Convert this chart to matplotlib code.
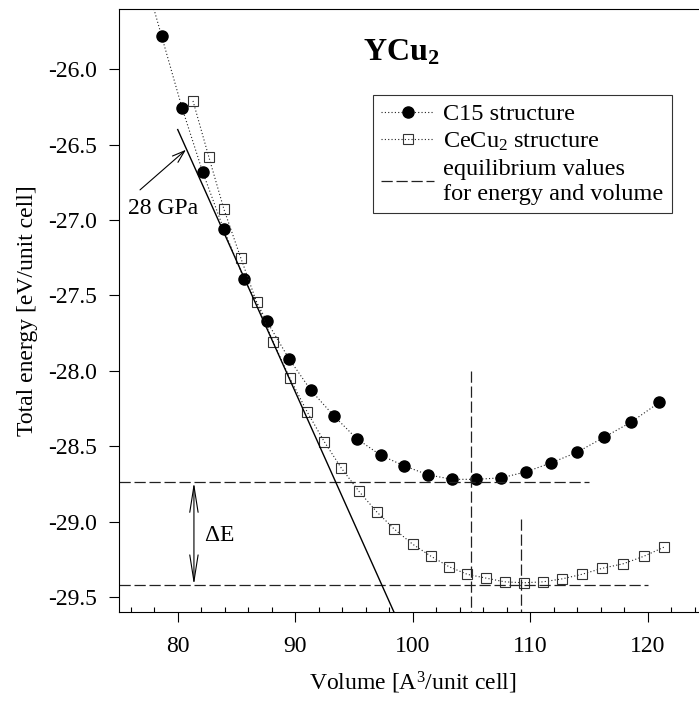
import numpy as np
import matplotlib
matplotlib.use("Agg")
import matplotlib.pyplot as plt
from matplotlib.lines import Line2D

# C15 structure (filled circles)
c15_volume = [78.63, 80.36, 82.12, 83.91, 85.64, 87.57, 89.47, 91.34, 93.30, 95.23, 97.27,
              99.26, 101.30, 103.37, 105.40, 107.54, 109.66, 111.80, 114.00, 116.30, 118.60, 120.98]
c15_energy = [-25.78, -26.254, -26.68, -27.06, -27.39, -27.67, -27.92, -28.13, -28.30, -28.45, -28.56,
              -28.63, -28.69, -28.72, -28.72, -28.71, -28.67, -28.61, -28.54, -28.44, -28.34, -28.21]

# CeCu2 structure (open squares)
cecu2_volume = [81.30, 82.66, 83.94, 85.36, 86.72, 88.13, 89.55, 91.00, 92.47, 93.92, 95.43, 96.93,
                98.43, 99.99, 101.55, 103.10, 104.64, 106.23, 107.83, 109.47, 111.09, 112.73, 114.40,
                116.13, 117.92, 119.68, 121.38]
cecu2_energy = [-26.21, -26.585, -26.93, -27.25, -27.545, -27.81, -28.05, -28.27, -28.47, -28.645, -28.80,
                -28.935, -29.05, -29.15, -29.23, -29.30, -29.35, -29.375, -29.40, -29.406, -29.40, -29.38,
                -29.35, -29.31, -29.28, -29.23, -29.17]

# equilibrium values (C15, CeCu2)
eq_volume = [105.0, 109.2]
eq_energy = [-28.74, -29.42]

# 28 GPa tangent
tangent_volume = [80.0, 98.4]
tangent_energy = [-26.40, -29.60]

xticks = [80, 90, 100, 110, 120]
yticks = [-26.0, -26.5, -27.0, -27.5, -28.0, -28.5, -29.0, -29.5]

plt.rcParams['font.family'] = ['Liberation Serif', 'DejaVu Serif']
plt.rcParams['mathtext.fontset'] = 'custom'
plt.rcParams['mathtext.rm'] = 'Liberation Serif'
plt.rcParams['mathtext.it'] = 'Liberation Serif:italic'
plt.rcParams['mathtext.bf'] = 'Liberation Serif:bold'
plt.rcParams['mathtext.default'] = 'regular'

fig = plt.figure(figsize=(6.99, 7.02), dpi=100)
# right spine sits just outside the picture, as in the scan
ax = fig.add_axes([0.1702, 0.1282, 0.8405, 0.8590])
xmin, xmax = 75, 125
ymin, ymax = -29.6, -25.6

dot = (0, (1, 2))
dash = (0, (9, 3))

# dotted curve through C15 points, first segment carried on to the top
s = (c15_energy[1] - c15_energy[0]) / (c15_volume[1] - c15_volume[0])
x_top = c15_volume[0] + (ymax - c15_energy[0]) / s
ax.plot([x_top] + c15_volume, [ymax] + c15_energy, linestyle=dot, color='#222222', lw=0.8)
ax.plot(c15_volume, c15_energy, 'o', color='black', markersize=8)

ax.plot(cecu2_volume, cecu2_energy, linestyle=dot, color='#222222', lw=0.8,
        marker='s', markersize=7.5, markerfacecolor='none', markeredgecolor='#333333',
        markeredgewidth=0.8)

# equilibrium lines
ax.plot([xmin, 115], [eq_energy[0], eq_energy[0]], color='#222222', lw=0.9, linestyle=dash)
ax.plot([xmin, 120], [eq_energy[1], eq_energy[1]], color='#222222', lw=0.9, linestyle=dash)
ax.plot([eq_volume[0], eq_volume[0]], [-28.0, ymin], color='#222222', lw=0.9, linestyle=dash)
ax.plot([eq_volume[1], eq_volume[1]], [-28.98, ymin], color='#222222', lw=0.9, linestyle=dash)

# tangent
ax.plot(tangent_volume, tangent_energy, color='black', lw=1.0)

# 28 GPa arrow
ax.annotate('', xy=(80.70, -26.534), xytext=(76.79, -26.80),
            arrowprops=dict(arrowstyle='->,head_length=0.9,head_width=0.3', color='black',
                            lw=0.8, shrinkA=0, shrinkB=0))
ax.text(75.75, -26.925, '28 GPa', fontsize=17, ha='left', va='center')

# delta E
ax.annotate('', xy=(81.38, eq_energy[0]), xytext=(81.38, eq_energy[1]),
            arrowprops=dict(arrowstyle='<->,head_length=1.9,head_width=0.3', color='black',
                            lw=0.8, shrinkA=0, shrinkB=0))
ax.text(82.2, -29.093, r'$\Delta$E', fontsize=17, ha='left', va='center')

ax.text(95.8, -25.945, r'$\mathbf{YCu_2}$', fontsize=23, ha='left', va='baseline')

handles = [
    Line2D([], [], linestyle=dot, color='#222222', lw=0.8, marker='o', markersize=8,
           markerfacecolor='black', markeredgecolor='black'),
    Line2D([], [], linestyle=dot, color='#222222', lw=0.8, marker='s', markersize=7.5,
           markerfacecolor='none', markeredgecolor='#333333', markeredgewidth=0.8),
    Line2D([], [], linestyle=dash, color='#222222', lw=0.9),
]
labels = ['C15 structure', r'CeCu$_2$ structure', 'equilibrium values\nfor energy and volume']
leg = ax.legend(handles, labels, loc='upper left', bbox_to_anchor=(0.4323, 0.8574),
                borderaxespad=0, fontsize=17.5, frameon=True, fancybox=False,
                edgecolor='black', handlelength=2.15, handletextpad=0.4,
                borderpad=0.35, labelspacing=0.22, numpoints=1)
leg.get_frame().set_linewidth(0.8)
for t in leg.get_texts():
    t.set_linespacing(1.25)

ax.set_xlim(xmin, xmax)
ax.set_ylim(ymin, ymax)
ax.set_xticks(xticks)
ax.set_xticks(np.arange(76, 125, 2), minor=True)
ax.set_yticks(yticks)
ax.set_yticklabels([f'{v:.1f}' for v in yticks])
ax.tick_params(axis='x', which='major', direction='out', length=7, width=0.8, labelsize=17, pad=10.5)
ax.tick_params(axis='x', which='minor', direction='in', length=3.6, width=0.8)
ax.tick_params(axis='y', which='major', direction='out', length=7, width=0.8, labelsize=17, pad=9)
for sp in ax.spines.values():
    sp.set_linewidth(0.8)

ax.set_xlabel(r'Volume [A$^3$/unit cell]', fontsize=17, labelpad=9)
ax.set_ylabel('Total energy [eV/unit cell]', fontsize=17, labelpad=7)

fig.savefig('out.png', dpi=100)
